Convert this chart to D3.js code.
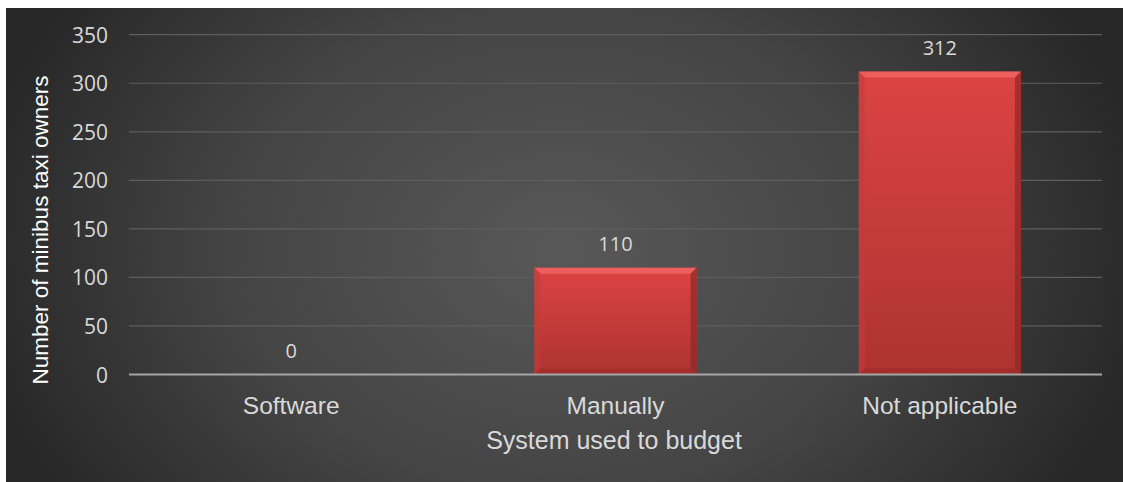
<!DOCTYPE html>
<html>
<head>
<meta charset="utf-8">
<script src="https://cdn.jsdelivr.net/npm/d3@7"></script>
<style>
html,body{margin:0;padding:0;background:#fff;}
svg{display:block;}
</style>
</head>
<body>
<svg id="chart" width="1123" height="482"></svg>
<script>
const categories = ["Software", "Manually", "Not applicable"];
const values = [0, 110, 312];
const yTicks = [0, 50, 100, 150, 200, 250, 300, 350];
const xTitle = "System used to budget";
const yTitle = "Number of minibus taxi owners";

const svg = d3.select("#chart");
const defs = svg.append("defs");

const bg = defs.append("radialGradient").attr("id","bg")
  .attr("gradientUnits","userSpaceOnUse")
  .attr("cx",560).attr("cy",250).attr("r",600)
  .attr("gradientTransform","translate(560,250) scale(1,0.75) translate(-560,-250)");
bg.append("stop").attr("offset","0").attr("stop-color","#585858");
bg.append("stop").attr("offset","0.55").attr("stop-color","#444444");
bg.append("stop").attr("offset","1").attr("stop-color","#272727");

const barG = defs.append("linearGradient").attr("id","barG").attr("x1",0).attr("y1",0).attr("x2",0).attr("y2",1);
barG.append("stop").attr("offset","0").attr("stop-color","#dc4443");
barG.append("stop").attr("offset","1").attr("stop-color","#ad3331");

svg.append("rect").attr("x",6).attr("y",8).attr("width",1117).attr("height",474).attr("fill","url(#bg)");

const x = d3.scaleBand().domain(categories).range([129,1102]).paddingInner(0.5).paddingOuter(0.25);
const y = d3.scaleLinear().domain([0,350]).range([374.5,34.7]);

// gridlines
svg.append("g").selectAll("line").data(yTicks.filter(d=>d>0)).join("line")
  .attr("x1",129).attr("x2",1102)
  .attr("y1",d=>y(d)).attr("y2",d=>y(d))
  .attr("stroke","#5e5e5e").attr("stroke-width",1.2);

// y axis tick labels
const yAxis = d3.axisLeft(y).tickValues(yTicks).tickSize(0).tickPadding(0);
const yg = svg.append("g").attr("transform","translate(108,0)").call(yAxis);
yg.select(".domain").remove();
yg.selectAll("text").attr("fill","#d9d9d9").attr("font-family","'Open Sans', sans-serif")
  .attr("font-size","21px").attr("dy","0.36em");

// bars
const bev = 6;
const barLayer = svg.append("g");
values.forEach((v,i)=>{
  if (v <= 0) return;
  const x0 = x(categories[i]), w = x.bandwidth(), y0 = y(v), y1 = y(0);
  const g = barLayer.append("g");
  g.append("rect").attr("x",x0).attr("y",y0).attr("width",w).attr("height",y1-y0).attr("fill","url(#barG)");
  g.append("path").attr("d",`M${x0},${y0}L${x0+w},${y0}L${x0+w-bev},${y0+bev}L${x0+bev},${y0+bev}Z`).attr("fill","#ef6462").attr("opacity",0.85);
  g.append("path").attr("d",`M${x0},${y0}L${x0+bev},${y0+bev}L${x0+bev},${y1-bev}L${x0},${y1}Z`).attr("fill","#c23c3a").attr("opacity",0.6);
  g.append("path").attr("d",`M${x0+w},${y0}L${x0+w-bev},${y0+bev}L${x0+w-bev},${y1-bev}L${x0+w},${y1}Z`).attr("fill","#8f2625").attr("opacity",0.7);
  g.append("path").attr("d",`M${x0},${y1}L${x0+bev},${y1-bev}L${x0+w-bev},${y1-bev}L${x0+w},${y1}Z`).attr("fill","#9a2c2a").attr("opacity",0.6);
});

// zero axis line
svg.append("line").attr("x1",129).attr("x2",1102).attr("y1",y(0)).attr("y2",y(0))
  .attr("stroke","#a6a6a6").attr("stroke-width",2);

// data labels
svg.append("g").selectAll("text").data(values).join("text")
  .attr("x",(d,i)=>x(categories[i])+x.bandwidth()/2)
  .attr("y",d=>y(d)-17)
  .attr("text-anchor","middle")
  .attr("fill","#d9d9d9").attr("font-family","'Open Sans', sans-serif").attr("font-size","20px")
  .text(d=>d);

// category labels
const xAxis = d3.axisBottom(x).tickSize(0).tickPadding(0);
const xg = svg.append("g").attr("transform",`translate(0,${y(0)})`).call(xAxis);
xg.select(".domain").remove();
xg.selectAll("text").attr("fill","#d9d9d9").attr("font-family","'Liberation Sans', Arial, sans-serif")
  .attr("font-size","24.5px").attr("dy",null).attr("y",39);

// axis titles
svg.append("text").attr("x",614).attr("y",449).attr("text-anchor","middle")
  .attr("fill","#d9d9d9").attr("font-family","'Liberation Sans', Arial, sans-serif").attr("font-size","25px")
  .text(xTitle);
svg.append("text").attr("transform","translate(48,230) rotate(-90)").attr("text-anchor","middle")
  .attr("fill","#ffffff").attr("font-family","'Liberation Sans', Arial, sans-serif").attr("font-size","22.5px")
  .text(yTitle);
</script>
</body>
</html>
